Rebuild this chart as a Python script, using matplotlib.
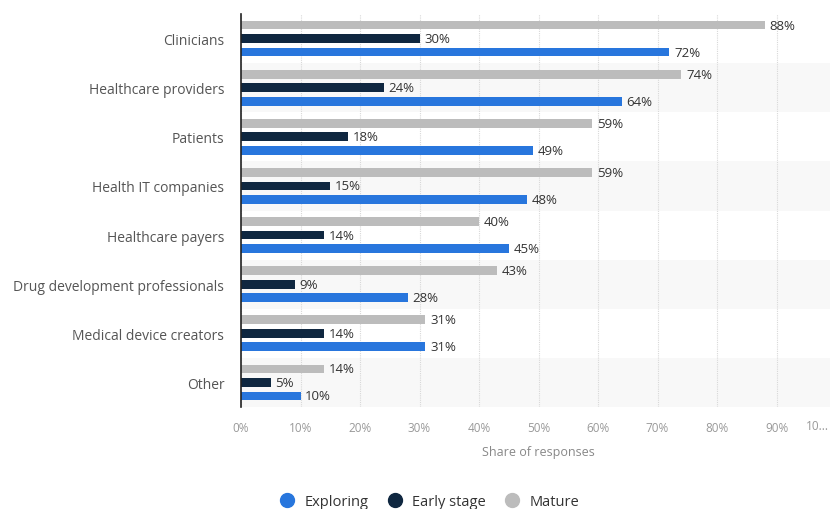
import numpy as np
import matplotlib.pyplot as plt
from matplotlib.lines import Line2D

categories = ['Clinicians', 'Healthcare providers', 'Patients', 'Health IT companies',
              'Healthcare payers', 'Drug development professionals',
              'Medical device creators', 'Other']
exploring = [72, 64, 49, 48, 45, 28, 31, 10]
early_stage = [30, 24, 18, 15, 14, 9, 14, 5]
mature = [88, 74, 59, 59, 40, 43, 31, 14]
tick_vals = [0, 10, 20, 30, 40, 50, 60, 70, 80, 90, 100]
tick_labels = ['0%', '10%', '20%', '30%', '40%', '50%', '60%', '70%', '80%', '90%', '']
last_tick = '10...'

c_blue = '#2876dd'
c_dark = '#0f2740'
c_gray = '#bcbcbc'

plt.rcParams['font.family'] = ['Open Sans', 'DejaVu Sans']

fig = plt.figure(figsize=(8.3, 5.1), dpi=100)
W, H = 830, 510
left, right, top, bottom = 241, 836, 15, 408
ax = fig.add_axes([left / W, 1 - bottom / H, (right - left) / W, (bottom - top) / H])

y = np.arange(len(categories))
h = 0.18
off = 0.275

# alternate band shading
for i in y:
    if i % 2 == 1:
        ax.axhspan(i - 0.5, i + 0.5, color='#f8f8f8', zorder=0, lw=0)

ax.barh(y - off, mature, height=h, color=c_gray, zorder=3, label='Mature')
ax.barh(y, early_stage, height=h, color=c_dark, zorder=3, label='Early stage')
ax.barh(y + off, exploring, height=h, color=c_blue, zorder=3, label='Exploring')

for vals, dy in [(mature, -off), (early_stage, 0), (exploring, off)]:
    for i, v in enumerate(vals):
        ax.text(v + 0.8, i + dy, f'{v}%', va='center', ha='left', fontsize=9.5,
                color='#333333', zorder=4)

ax.set_ylim(len(categories) - 0.5, -0.5)
ax.set_xlim(0, 100)
ax.set_yticks(y)
ax.set_yticklabels(categories, fontsize=10, color='#555555')
ax.set_xticks(tick_vals)
ax.set_xticklabels(tick_labels, fontsize=8.5, color='#999999')
# truncated last tick label, pulled inside the figure
fig.text(829 / W, 1 - 427 / H, last_tick, ha='right', va='center', fontsize=8.5, color='#999999')
ax.tick_params(axis='both', length=0)
ax.tick_params(axis='x', pad=10)
ax.tick_params(axis='y', pad=12)
ax.set_xlabel('Share of responses', fontsize=9, color='#888888', labelpad=8)

ax.grid(axis='x', color='#d8d8d8', linestyle=(0, (1, 1)), lw=0.8, zorder=1)
ax.set_axisbelow(True)
for s in ['top', 'right', 'bottom']:
    ax.spines[s].set_visible(False)
ax.spines['left'].set_color('#222222')
ax.spines['left'].set_linewidth(1.2)
ax.spines['left'].set_zorder(5)

handles = [Line2D([], [], marker='o', ls='', color=c, markersize=10)
           for c in [c_blue, c_dark, c_gray]]
fig.legend(handles, ['Exploring', 'Early stage', 'Mature'], loc='center',
           bbox_to_anchor=(426 / W, 1 - 503 / H), ncol=3, frameon=False,
           fontsize=10.5, handletextpad=0.2, columnspacing=0.8, labelcolor='#333333')

fig.savefig('out.png', dpi=100)
